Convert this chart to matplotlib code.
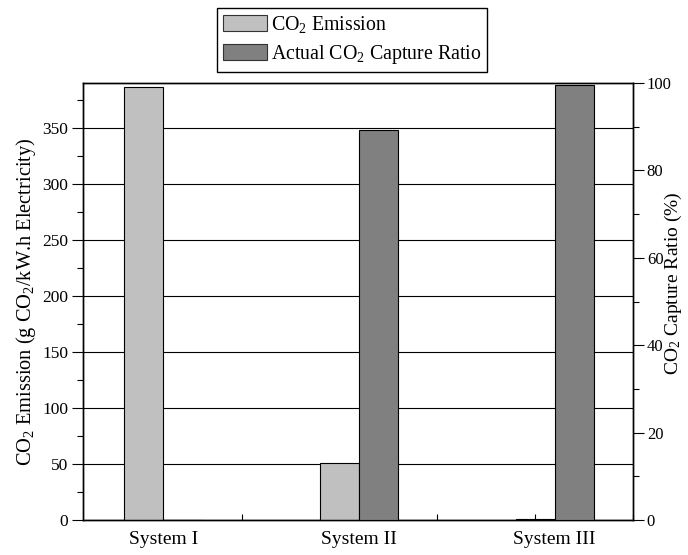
import matplotlib
matplotlib.use("Agg")
import matplotlib.pyplot as plt
from matplotlib.ticker import MultipleLocator, FixedLocator, NullFormatter
from matplotlib.patches import Patch

plt.rcParams['font.family'] = ['Liberation Serif', 'DejaVu Serif']
plt.rcParams['mathtext.fontset'] = 'custom'
plt.rcParams['mathtext.rm'] = 'Liberation Serif'
plt.rcParams['mathtext.it'] = 'Liberation Serif:italic'
plt.rcParams['mathtext.default'] = 'regular'

categories = ["System I", "System II", "System III"]
emission = [386, 51, 0.5]          # g CO2 / kWh electricity
capture_ratio = [0, 89.2, 99.5]    # %

light = "#c0c0c0"
dark = "#808080"

fig = plt.figure(figsize=(6.88, 5.55), dpi=100)
ax = fig.add_axes([0.1206, 0.063, 0.7994, 0.7875])
ax2 = ax.twinx()

x = [1, 2, 3]
w = 0.2
ax.set_axisbelow(True)
ax.yaxis.grid(True, which='major', color='black', linewidth=0.8)
ax.bar(x, emission, width=w, color=light, edgecolor='black', linewidth=0.8, zorder=3)
ax2.bar([xi + w for xi in x], capture_ratio, width=w, color=dark, edgecolor='black', linewidth=0.8, zorder=3)

ax.set_xlim(0.69, 3.5)
ax.set_ylim(0, 390)
ax2.set_ylim(0, 100)

# labels centred between the two bars of each group, tick marks at the category positions
ax.set_xticks([xi + w / 2 for xi in x])
ax.set_xticklabels(categories, fontsize=14)
ax.xaxis.set_minor_locator(FixedLocator([1, 1.5, 2, 2.5, 3, 3.5]))
ax.xaxis.set_minor_formatter(NullFormatter())
ax.yaxis.set_major_locator(MultipleLocator(50))
ax.yaxis.set_minor_locator(MultipleLocator(25))
ax2.yaxis.set_major_locator(MultipleLocator(20))
ax2.yaxis.set_minor_locator(MultipleLocator(10))

ax.tick_params(axis='x', which='major', length=0, pad=8)
ax.tick_params(axis='x', which='minor', direction='in', length=4, width=0.8)
ax.tick_params(axis='y', which='major', direction='out', length=8, width=0.8, labelsize=12.5, pad=2.5)
ax.tick_params(axis='y', which='minor', direction='out', length=4, width=0.8)
ax2.tick_params(axis='y', which='major', direction='out', length=8, width=0.8, labelsize=12, pad=2)
ax2.tick_params(axis='y', which='minor', direction='out', length=4, width=0.8)

for a in (ax, ax2):
    for s in a.spines.values():
        s.set_linewidth(1.0)

ax.set_ylabel("CO$_2$ Emission (g CO$_2$/kW.h Electricity)", fontsize=14.7, labelpad=3)
ax2.set_ylabel("CO$_2$ Capture Ratio (%)", fontsize=14)
ax2.yaxis.label.set_verticalalignment('center')
ax2.yaxis.set_label_coords(1.0745, 0.542)

handles = [Patch(facecolor=light, edgecolor='#333333', linewidth=0.8),
           Patch(facecolor=dark, edgecolor='#333333', linewidth=0.8)]
fig.legend(handles, ["CO$_2$ Emission", "Actual CO$_2$ Capture Ratio"],
           loc='upper center', bbox_to_anchor=(0.5116, 0.9856), fontsize=14.3,
           frameon=True, fancybox=False, edgecolor='black', framealpha=1,
           handlelength=2.2, handleheight=0.9, handletextpad=0.2,
           labelspacing=0.4, borderpad=0.3, borderaxespad=0)

fig.savefig("out.png", dpi=100)
